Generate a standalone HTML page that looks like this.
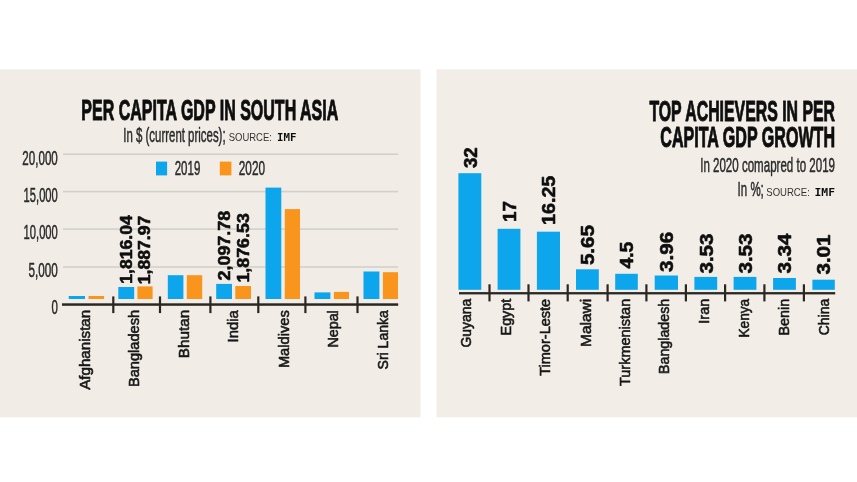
<!DOCTYPE html>
<html lang="en">
<head>
<meta charset="utf-8">
<title>Per capita GDP in South Asia</title>
<style>
html,body{margin:0;padding:0;background:#ffffff;}
body{width:857px;height:482px;overflow:hidden;font-family:'Liberation Sans',sans-serif;}
svg{display:block;}
</style>
</head>
<body>
<svg width="857" height="482" viewBox="0 0 857 482">
<defs><filter id="soft" x="-2%" y="-2%" width="104%" height="104%"><feGaussianBlur stdDeviation="0.5"/></filter></defs>
<g filter="url(#soft)">
<rect x="-2.00" y="69.40" width="422.50" height="347.90" fill="#f1ede6"/>
<rect x="436.60" y="69.40" width="423.40" height="347.90" fill="#f2ede7"/>
<text x="81.30" y="119.50" font-size="29" font-weight="bold" fill="#111" font-family="'Liberation Sans', sans-serif" textLength="257.00" lengthAdjust="spacingAndGlyphs" stroke="#111" stroke-width="1.0" stroke-linejoin="round">PER CAPITA GDP IN SOUTH ASIA</text>
<text x="123.30" y="141.50" font-size="20" font-weight="normal" fill="#2a2a2a" font-family="'Liberation Sans', sans-serif" textLength="102.30" lengthAdjust="spacingAndGlyphs" stroke="#2a2a2a" stroke-width="0.5" stroke-linejoin="round">In $ (current prices);</text>
<text x="228.70" y="141.20" font-size="11" font-weight="normal" fill="#333" font-family="'Liberation Sans', sans-serif" textLength="43.20" lengthAdjust="spacingAndGlyphs">SOURCE:</text>
<text x="277.00" y="141.20" font-size="10.6" font-weight="bold" fill="#111" font-family="'DejaVu Sans Mono', 'Liberation Mono', monospace" textLength="19.40" lengthAdjust="spacingAndGlyphs">IMF</text>
<rect x="63.00" y="153.40" width="335.20" height="1.60" fill="#d2d0ca"/>
<rect x="63.00" y="190.80" width="335.20" height="1.60" fill="#d2d0ca"/>
<rect x="63.00" y="228.30" width="335.20" height="1.60" fill="#d2d0ca"/>
<rect x="63.00" y="266.20" width="335.20" height="1.60" fill="#d2d0ca"/>
<text x="22.30" y="164.60" font-size="19.5" font-weight="normal" fill="#2a2a2a" font-family="'Liberation Sans', sans-serif" textLength="35.50" lengthAdjust="spacingAndGlyphs" stroke="#2a2a2a" stroke-width="0.5" stroke-linejoin="round">20,000</text>
<text x="23.60" y="202.00" font-size="19.5" font-weight="normal" fill="#2a2a2a" font-family="'Liberation Sans', sans-serif" textLength="34.20" lengthAdjust="spacingAndGlyphs" stroke="#2a2a2a" stroke-width="0.5" stroke-linejoin="round">15,000</text>
<text x="23.60" y="239.40" font-size="19.5" font-weight="normal" fill="#2a2a2a" font-family="'Liberation Sans', sans-serif" textLength="34.20" lengthAdjust="spacingAndGlyphs" stroke="#2a2a2a" stroke-width="0.5" stroke-linejoin="round">10,000</text>
<text x="28.50" y="276.90" font-size="19.5" font-weight="normal" fill="#2a2a2a" font-family="'Liberation Sans', sans-serif" textLength="29.30" lengthAdjust="spacingAndGlyphs" stroke="#2a2a2a" stroke-width="0.5" stroke-linejoin="round">5,000</text>
<text x="51.40" y="313.90" font-size="19.5" font-weight="normal" fill="#2a2a2a" font-family="'Liberation Sans', sans-serif" textLength="6.40" lengthAdjust="spacingAndGlyphs" stroke="#2a2a2a" stroke-width="0.5" stroke-linejoin="round">0</text>
<rect x="156.00" y="161.60" width="11.10" height="13.80" fill="#0ca5ec"/>
<text x="174.70" y="175.00" font-size="20.3" font-weight="normal" fill="#2a2a2a" font-family="'Liberation Sans', sans-serif" textLength="25.60" lengthAdjust="spacingAndGlyphs" stroke="#2a2a2a" stroke-width="0.5" stroke-linejoin="round">2019</text>
<rect x="219.80" y="161.60" width="11.60" height="13.80" fill="#f9941b"/>
<text x="238.80" y="175.00" font-size="20.3" font-weight="normal" fill="#2a2a2a" font-family="'Liberation Sans', sans-serif" textLength="26.20" lengthAdjust="spacingAndGlyphs" stroke="#2a2a2a" stroke-width="0.5" stroke-linejoin="round">2020</text>
<rect x="68.70" y="296.00" width="16.30" height="3.00" fill="#0ca5ec"/>
<rect x="88.50" y="296.00" width="15.60" height="3.00" fill="#f9941b"/>
<rect x="118.30" y="287.00" width="15.90" height="12.00" fill="#0ca5ec"/>
<rect x="137.40" y="286.40" width="15.20" height="12.60" fill="#f9941b"/>
<rect x="167.80" y="275.20" width="15.60" height="23.80" fill="#0ca5ec"/>
<rect x="186.80" y="275.20" width="15.40" height="23.80" fill="#f9941b"/>
<rect x="216.20" y="283.90" width="15.80" height="15.10" fill="#0ca5ec"/>
<rect x="235.30" y="286.00" width="15.70" height="13.00" fill="#f9941b"/>
<rect x="265.50" y="187.60" width="15.80" height="111.40" fill="#0ca5ec"/>
<rect x="284.80" y="209.10" width="15.20" height="89.90" fill="#f9941b"/>
<rect x="314.50" y="292.40" width="15.90" height="6.60" fill="#0ca5ec"/>
<rect x="333.90" y="291.90" width="15.10" height="7.10" fill="#f9941b"/>
<rect x="363.50" y="271.50" width="15.90" height="27.50" fill="#0ca5ec"/>
<rect x="382.90" y="272.20" width="15.10" height="26.80" fill="#f9941b"/>
<rect x="62.00" y="303.30" width="336.20" height="2.50" fill="#2a2724"/>
<rect x="112.20" y="296.40" width="2.20" height="16.70" fill="#2a2724"/>
<rect x="158.90" y="296.40" width="2.20" height="16.70" fill="#2a2724"/>
<rect x="209.30" y="296.40" width="2.20" height="16.70" fill="#2a2724"/>
<rect x="257.20" y="296.40" width="2.20" height="16.70" fill="#2a2724"/>
<rect x="304.30" y="296.40" width="2.20" height="16.70" fill="#2a2724"/>
<rect x="356.40" y="296.40" width="2.20" height="16.70" fill="#2a2724"/>
<text transform="translate(131.70 283.80) rotate(-90)" x="0" y="0" font-size="16" font-weight="bold" fill="#111" font-family="'Liberation Sans', sans-serif" textLength="68.60" lengthAdjust="spacingAndGlyphs" stroke="#111" stroke-width="0.6" stroke-linejoin="round">1,816.04</text>
<text transform="translate(150.30 284.30) rotate(-90)" x="0" y="0" font-size="16" font-weight="bold" fill="#111" font-family="'Liberation Sans', sans-serif" textLength="68.60" lengthAdjust="spacingAndGlyphs" stroke="#111" stroke-width="0.6" stroke-linejoin="round">1,887.97</text>
<text transform="translate(229.70 280.50) rotate(-90)" x="0" y="0" font-size="16" font-weight="bold" fill="#111" font-family="'Liberation Sans', sans-serif" textLength="69.70" lengthAdjust="spacingAndGlyphs" stroke="#111" stroke-width="0.6" stroke-linejoin="round">2,097.78</text>
<text transform="translate(248.50 282.60) rotate(-90)" x="0" y="0" font-size="16" font-weight="bold" fill="#111" font-family="'Liberation Sans', sans-serif" textLength="69.40" lengthAdjust="spacingAndGlyphs" stroke="#111" stroke-width="0.6" stroke-linejoin="round">1,876.53</text>
<text transform="translate(90.24 389.80) rotate(-90)" x="0" y="0" font-size="14.3" font-weight="normal" fill="#1a1a1a" font-family="'Liberation Sans', sans-serif" textLength="80.00" lengthAdjust="spacingAndGlyphs" stroke="#1a1a1a" stroke-width="0.6" stroke-linejoin="round">Afghanistan</text>
<text transform="translate(138.64 387.10) rotate(-90)" x="0" y="0" font-size="14.3" font-weight="normal" fill="#1a1a1a" font-family="'Liberation Sans', sans-serif" textLength="77.30" lengthAdjust="spacingAndGlyphs" stroke="#1a1a1a" stroke-width="0.6" stroke-linejoin="round">Bangladesh</text>
<text transform="translate(189.04 358.20) rotate(-90)" x="0" y="0" font-size="14.3" font-weight="normal" fill="#1a1a1a" font-family="'Liberation Sans', sans-serif" textLength="48.40" lengthAdjust="spacingAndGlyphs" stroke="#1a1a1a" stroke-width="0.6" stroke-linejoin="round">Bhutan</text>
<text transform="translate(237.64 342.50) rotate(-90)" x="0" y="0" font-size="14.3" font-weight="normal" fill="#1a1a1a" font-family="'Liberation Sans', sans-serif" textLength="32.30" lengthAdjust="spacingAndGlyphs" stroke="#1a1a1a" stroke-width="0.6" stroke-linejoin="round">India</text>
<text transform="translate(288.64 368.10) rotate(-90)" x="0" y="0" font-size="14.3" font-weight="normal" fill="#1a1a1a" font-family="'Liberation Sans', sans-serif" textLength="57.90" lengthAdjust="spacingAndGlyphs" stroke="#1a1a1a" stroke-width="0.6" stroke-linejoin="round">Maldives</text>
<text transform="translate(337.54 347.60) rotate(-90)" x="0" y="0" font-size="14.3" font-weight="normal" fill="#1a1a1a" font-family="'Liberation Sans', sans-serif" textLength="37.40" lengthAdjust="spacingAndGlyphs" stroke="#1a1a1a" stroke-width="0.6" stroke-linejoin="round">Nepal</text>
<text transform="translate(387.54 369.40) rotate(-90)" x="0" y="0" font-size="14.3" font-weight="normal" fill="#1a1a1a" font-family="'Liberation Sans', sans-serif" textLength="59.20" lengthAdjust="spacingAndGlyphs" stroke="#1a1a1a" stroke-width="0.6" stroke-linejoin="round">Sri Lanka</text>
<text x="649.40" y="120.90" font-size="29" font-weight="bold" fill="#111" font-family="'Liberation Sans', sans-serif" textLength="185.60" lengthAdjust="spacingAndGlyphs" stroke="#111" stroke-width="1.0" stroke-linejoin="round">TOP ACHIEVERS IN PER</text>
<text x="660.30" y="147.20" font-size="29" font-weight="bold" fill="#111" font-family="'Liberation Sans', sans-serif" textLength="174.70" lengthAdjust="spacingAndGlyphs" stroke="#111" stroke-width="1.0" stroke-linejoin="round">CAPITA GDP GROWTH</text>
<text x="700.20" y="172.00" font-size="20" font-weight="normal" fill="#2a2a2a" font-family="'Liberation Sans', sans-serif" textLength="134.80" lengthAdjust="spacingAndGlyphs" stroke="#2a2a2a" stroke-width="0.5" stroke-linejoin="round">In 2020 comapred to 2019</text>
<text x="737.60" y="195.70" font-size="20" font-weight="normal" fill="#2a2a2a" font-family="'Liberation Sans', sans-serif" textLength="26.20" lengthAdjust="spacingAndGlyphs" stroke="#2a2a2a" stroke-width="0.5" stroke-linejoin="round">In %;</text>
<text x="766.30" y="195.70" font-size="11.3" font-weight="normal" fill="#333" font-family="'Liberation Sans', sans-serif" textLength="43.50" lengthAdjust="spacingAndGlyphs">SOURCE:</text>
<text x="814.50" y="195.70" font-size="10.6" font-weight="bold" fill="#111" font-family="'DejaVu Sans Mono', 'Liberation Mono', monospace" textLength="20.50" lengthAdjust="spacingAndGlyphs">IMF</text>
<rect x="458.40" y="173.20" width="22.90" height="116.60" fill="#0ca5ec"/>
<text transform="translate(476.65 168.00) rotate(-90)" x="0" y="0" font-size="18.6" font-weight="bold" fill="#111" font-family="'Liberation Sans', sans-serif" textLength="20.70" lengthAdjust="spacingAndGlyphs" stroke="#111" stroke-width="0.6" stroke-linejoin="round">32</text>
<text transform="translate(470.99 347.60) rotate(-90)" x="0" y="0" font-size="14.3" font-weight="normal" fill="#1a1a1a" font-family="'Liberation Sans', sans-serif" textLength="48.80" lengthAdjust="spacingAndGlyphs" stroke="#1a1a1a" stroke-width="0.6" stroke-linejoin="round">Guyana</text>
<rect x="497.60" y="228.80" width="22.80" height="61.00" fill="#0ca5ec"/>
<text transform="translate(515.80 222.00) rotate(-90)" x="0" y="0" font-size="18.6" font-weight="bold" fill="#111" font-family="'Liberation Sans', sans-serif" textLength="20.80" lengthAdjust="spacingAndGlyphs" stroke="#111" stroke-width="0.6" stroke-linejoin="round">17</text>
<text transform="translate(511.34 335.40) rotate(-90)" x="0" y="0" font-size="14.3" font-weight="normal" fill="#1a1a1a" font-family="'Liberation Sans', sans-serif" textLength="36.60" lengthAdjust="spacingAndGlyphs" stroke="#1a1a1a" stroke-width="0.6" stroke-linejoin="round">Egypt</text>
<rect x="536.90" y="231.70" width="23.10" height="58.10" fill="#0ca5ec"/>
<text transform="translate(555.25 225.00) rotate(-90)" x="0" y="0" font-size="18.6" font-weight="bold" fill="#111" font-family="'Liberation Sans', sans-serif" textLength="49.30" lengthAdjust="spacingAndGlyphs" stroke="#111" stroke-width="0.6" stroke-linejoin="round">16.25</text>
<text transform="translate(550.39 375.80) rotate(-90)" x="0" y="0" font-size="14.3" font-weight="normal" fill="#1a1a1a" font-family="'Liberation Sans', sans-serif" textLength="77.00" lengthAdjust="spacingAndGlyphs" stroke="#1a1a1a" stroke-width="0.6" stroke-linejoin="round">Timor-Leste</text>
<rect x="576.00" y="269.30" width="22.80" height="20.50" fill="#0ca5ec"/>
<text transform="translate(594.20 265.10) rotate(-90)" x="0" y="0" font-size="18.6" font-weight="bold" fill="#111" font-family="'Liberation Sans', sans-serif" textLength="40.10" lengthAdjust="spacingAndGlyphs" stroke="#111" stroke-width="0.6" stroke-linejoin="round">5.65</text>
<text transform="translate(590.64 346.90) rotate(-90)" x="0" y="0" font-size="14.3" font-weight="normal" fill="#1a1a1a" font-family="'Liberation Sans', sans-serif" textLength="48.10" lengthAdjust="spacingAndGlyphs" stroke="#1a1a1a" stroke-width="0.6" stroke-linejoin="round">Malawi</text>
<rect x="615.20" y="273.80" width="22.60" height="16.00" fill="#0ca5ec"/>
<text transform="translate(633.30 268.60) rotate(-90)" x="0" y="0" font-size="18.6" font-weight="bold" fill="#111" font-family="'Liberation Sans', sans-serif" textLength="27.00" lengthAdjust="spacingAndGlyphs" stroke="#111" stroke-width="0.6" stroke-linejoin="round">4.5</text>
<text transform="translate(629.54 386.00) rotate(-90)" x="0" y="0" font-size="14.3" font-weight="normal" fill="#1a1a1a" font-family="'Liberation Sans', sans-serif" textLength="87.20" lengthAdjust="spacingAndGlyphs" stroke="#1a1a1a" stroke-width="0.6" stroke-linejoin="round">Turkmenistan</text>
<rect x="654.70" y="275.50" width="23.30" height="14.30" fill="#0ca5ec"/>
<text transform="translate(673.15 272.00) rotate(-90)" x="0" y="0" font-size="18.6" font-weight="bold" fill="#111" font-family="'Liberation Sans', sans-serif" textLength="40.10" lengthAdjust="spacingAndGlyphs" stroke="#111" stroke-width="0.6" stroke-linejoin="round">3.96</text>
<text transform="translate(668.69 374.00) rotate(-90)" x="0" y="0" font-size="14.3" font-weight="normal" fill="#1a1a1a" font-family="'Liberation Sans', sans-serif" textLength="75.20" lengthAdjust="spacingAndGlyphs" stroke="#1a1a1a" stroke-width="0.6" stroke-linejoin="round">Bangladesh</text>
<rect x="694.40" y="276.90" width="22.80" height="12.90" fill="#0ca5ec"/>
<text transform="translate(712.60 273.50) rotate(-90)" x="0" y="0" font-size="18.6" font-weight="bold" fill="#111" font-family="'Liberation Sans', sans-serif" textLength="39.90" lengthAdjust="spacingAndGlyphs" stroke="#111" stroke-width="0.6" stroke-linejoin="round">3.53</text>
<text transform="translate(709.34 323.70) rotate(-90)" x="0" y="0" font-size="14.3" font-weight="normal" fill="#1a1a1a" font-family="'Liberation Sans', sans-serif" textLength="24.90" lengthAdjust="spacingAndGlyphs" stroke="#1a1a1a" stroke-width="0.6" stroke-linejoin="round">Iran</text>
<rect x="733.60" y="276.90" width="22.80" height="12.90" fill="#0ca5ec"/>
<text transform="translate(751.80 273.50) rotate(-90)" x="0" y="0" font-size="18.6" font-weight="bold" fill="#111" font-family="'Liberation Sans', sans-serif" textLength="39.90" lengthAdjust="spacingAndGlyphs" stroke="#111" stroke-width="0.6" stroke-linejoin="round">3.53</text>
<text transform="translate(749.34 337.60) rotate(-90)" x="0" y="0" font-size="14.3" font-weight="normal" fill="#1a1a1a" font-family="'Liberation Sans', sans-serif" textLength="38.80" lengthAdjust="spacingAndGlyphs" stroke="#1a1a1a" stroke-width="0.6" stroke-linejoin="round">Kenya</text>
<rect x="773.10" y="278.00" width="22.80" height="11.80" fill="#0ca5ec"/>
<text transform="translate(791.30 273.50) rotate(-90)" x="0" y="0" font-size="18.6" font-weight="bold" fill="#111" font-family="'Liberation Sans', sans-serif" textLength="39.90" lengthAdjust="spacingAndGlyphs" stroke="#111" stroke-width="0.6" stroke-linejoin="round">3.34</text>
<text transform="translate(789.04 335.50) rotate(-90)" x="0" y="0" font-size="14.3" font-weight="normal" fill="#1a1a1a" font-family="'Liberation Sans', sans-serif" textLength="36.70" lengthAdjust="spacingAndGlyphs" stroke="#1a1a1a" stroke-width="0.6" stroke-linejoin="round">Benin</text>
<rect x="812.40" y="279.70" width="22.40" height="10.10" fill="#0ca5ec"/>
<text transform="translate(830.40 274.50) rotate(-90)" x="0" y="0" font-size="18.6" font-weight="bold" fill="#111" font-family="'Liberation Sans', sans-serif" textLength="39.90" lengthAdjust="spacingAndGlyphs" stroke="#111" stroke-width="0.6" stroke-linejoin="round">3.01</text>
<text transform="translate(828.64 335.30) rotate(-90)" x="0" y="0" font-size="14.3" font-weight="normal" fill="#1a1a1a" font-family="'Liberation Sans', sans-serif" textLength="36.50" lengthAdjust="spacingAndGlyphs" stroke="#1a1a1a" stroke-width="0.6" stroke-linejoin="round">China</text>
<rect x="459.00" y="292.10" width="376.20" height="2.30" fill="#2a2724"/>
<rect x="488.40" y="284.30" width="2.20" height="17.10" fill="#2a2724"/>
<rect x="527.40" y="284.30" width="2.20" height="17.10" fill="#2a2724"/>
<rect x="566.60" y="284.30" width="2.20" height="17.10" fill="#2a2724"/>
<rect x="606.50" y="284.30" width="2.20" height="17.10" fill="#2a2724"/>
<rect x="645.30" y="284.30" width="2.20" height="17.10" fill="#2a2724"/>
<rect x="684.80" y="284.30" width="2.20" height="17.10" fill="#2a2724"/>
<rect x="724.00" y="284.30" width="2.20" height="17.10" fill="#2a2724"/>
<rect x="763.30" y="284.30" width="2.20" height="17.10" fill="#2a2724"/>
<rect x="802.80" y="284.30" width="2.20" height="17.10" fill="#2a2724"/>
</g>
</svg>
</body>
</html>
